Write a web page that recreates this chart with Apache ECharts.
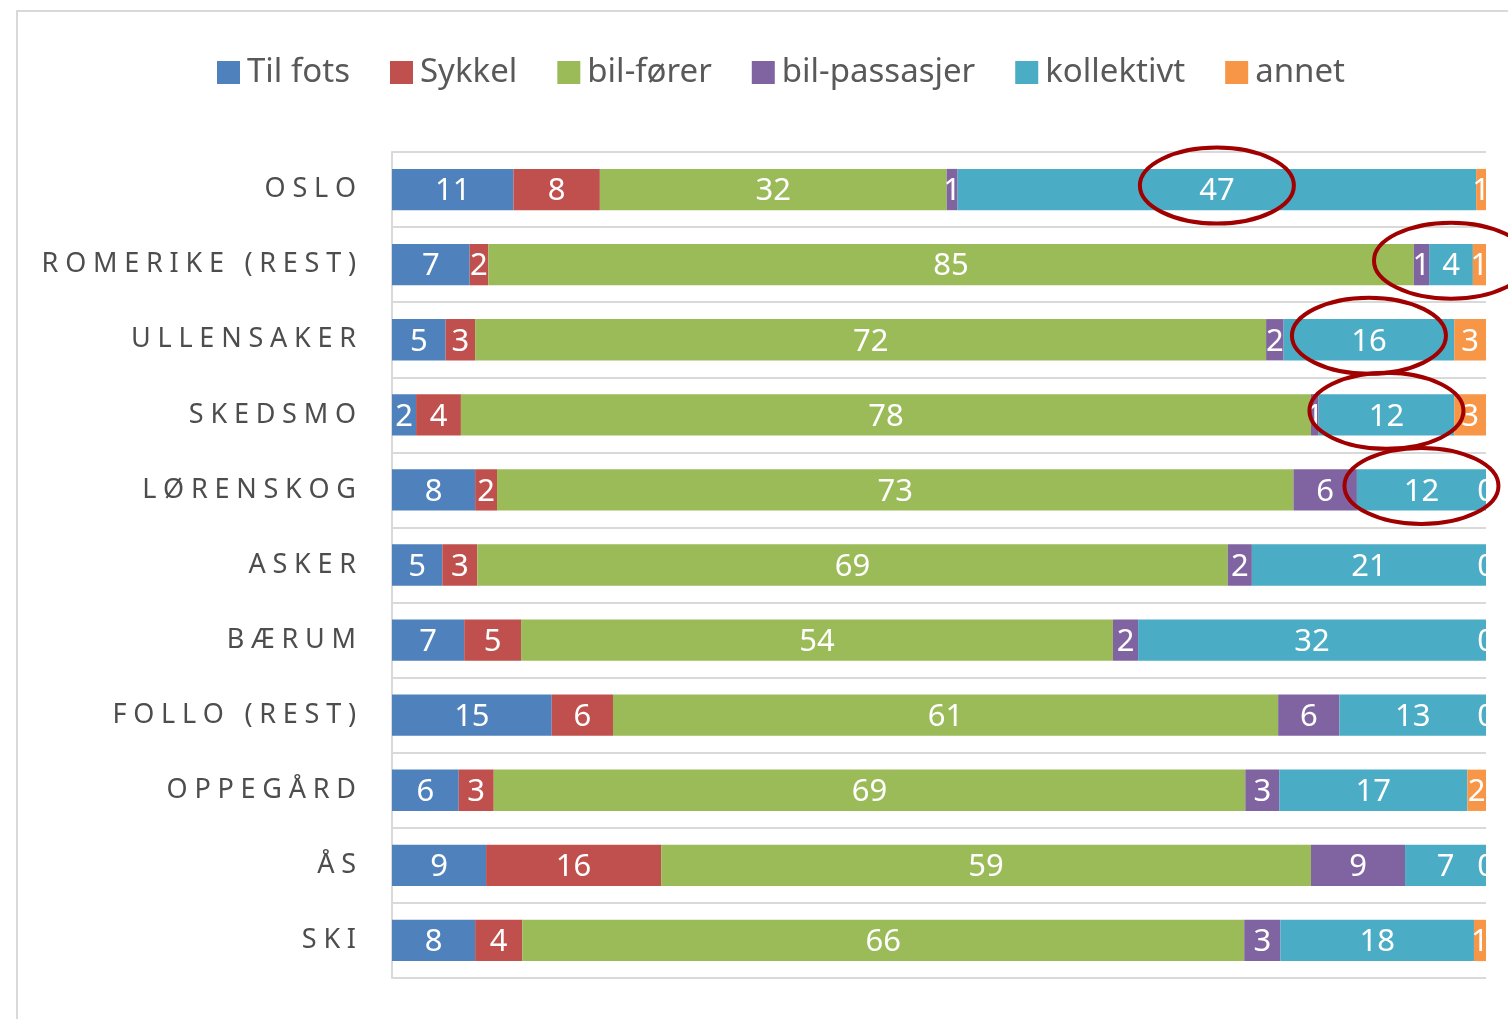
<!DOCTYPE html>
<html>
<head>
<meta charset="utf-8">
<script src="https://cdn.jsdelivr.net/npm/echarts@6.0.0/dist/echarts.min.js"></script>
<style>
  html, body { margin: 0; padding: 0; background: #fff; }
  #chart { width: 1508px; height: 1019px; }
</style>
</head>
<body>
<div id="chart"></div>
<script>
// andel reiser etter transportmiddel (prosent)
const categories = ['OSLO', 'ROMERIKE (REST)', 'ULLENSAKER', 'SKEDSMO', 'LØRENSKOG', 'ASKER', 'BÆRUM', 'FOLLO (REST)', 'OPPEGÅRD', 'ÅS', 'SKI'];
const tilFots = [11.1, 7.1, 4.9, 2.2, 7.6, 4.6, 6.6, 14.6, 6.1, 8.6, 7.6];
const sykkel = [7.9, 1.7, 2.7, 4.1, 2.0, 3.2, 5.2, 5.6, 3.2, 16.0, 4.3];
const bilForer = [31.7, 84.6, 72.3, 77.7, 72.8, 68.6, 54.1, 60.8, 68.7, 59.4, 66.0];
const bilPassasjer = [1.0, 1.4, 1.6, 0.7, 5.8, 2.2, 2.3, 5.6, 3.1, 8.6, 3.3];
const kollektivt = [47.4, 4.0, 15.6, 12.4, 11.8, 21.4, 31.8, 13.4, 17.2, 7.4, 17.7];
const annet = [0.9, 1.2, 2.9, 2.9, 0, 0, 0, 0, 1.7, 0, 1.1];

const seriesNames = ['Til fots', 'Sykkel', 'bil-fører', 'bil-passasjer', 'kollektivt', 'annet'];
const seriesData = [tilFots, sykkel, bilForer, bilPassasjer, kollektivt, annet];
const colors = ['#4f81bd', '#c0504d', '#9bbb59', '#8064a2', '#4bacc6', '#f79646'];

// kategorier som er markert med ring rundt kollektivt-tallet
const markedRows = ['OSLO', 'ROMERIKE (REST)', 'ULLENSAKER', 'SKEDSMO', 'LØRENSKOG'];

const myChart = echarts.init(document.getElementById('chart'));

const option = {
    animation: false,
    color: colors,
    legend: {
        data: seriesNames,
        left: 212,
        top: 51,
        itemWidth: 23,
        itemHeight: 23,
        itemGap: 40,
        icon: 'rect',
        textStyle: {
            fontFamily: 'Noto Sans',
            fontSize: 33,
            color: '#595959',
            padding: [0, 0, 0, 2]
        }
    },
    grid: {
        left: 392,
        right: 22,
        top: 152,
        bottom: 41
    },
    xAxis: {
        type: 'value',
        min: 0,
        max: 100,
        show: false
    },
    yAxis: {
        type: 'category',
        data: categories,
        inverse: true,
        axisTick: { show: false },
        axisLine: { show: true, lineStyle: { color: '#d9d9d9', width: 2 } },
        splitLine: { show: true, lineStyle: { color: '#d9d9d9', width: 2 } },
        axisLabel: {
            margin: 36,
            fontFamily: 'Noto Sans',
            fontSize: 27,
            color: '#4d4d4d',
            formatter: function (value) {
                return value.split('').join('\u2005'); // sperret skrift
            }
        }
    },
    series: seriesNames.map(function (name, i) {
        return {
            name: name,
            type: 'bar',
            stack: 'total',
            barCategoryGap: '45%',
            data: seriesData[i],
            label: {
                show: true,
                position: 'inside',
                offset: [0, 2],
                color: '#fff',
                fontFamily: 'Noto Sans',
                fontSize: 31,
                formatter: function (p) {
                    return Math.round(p.value);
                }
            }
        };
    })
};
myChart.setOption(option);

// ramme, avklipping til høyre og røde ringer
const xRight = myChart.convertToPixel({ xAxisIndex: 0 }, 100);
const graphics = [
    {
        type: 'rect',
        z: 0,
        shape: { x: 17, y: 11, width: 1700, height: 1200 },
        style: { fill: 'none', stroke: '#d9d9d9', lineWidth: 2 }
    },
    {
        type: 'rect',
        z: 100,
        shape: { x: xRight + 1, y: 140, width: 100, height: 850 },
        style: { fill: '#fff' }
    }
];
markedRows.forEach(function (cat) {
    const idx = categories.indexOf(cat);
    let start = 0;
    for (let s = 0; s < 4; s++) start += seriesData[s][idx];
    const mid = start + kollektivt[idx] / 2;
    const pt = myChart.convertToPixel({ gridIndex: 0 }, [mid, cat]);
    graphics.push({
        type: 'ellipse',
        z: 101,
        shape: { cx: pt[0], cy: pt[1] - 4, rx: 77, ry: 38 },
        style: { fill: 'none', stroke: '#a00000', lineWidth: 4 }
    });
});
myChart.setOption({ graphic: graphics });
</script>
</body>
</html>
